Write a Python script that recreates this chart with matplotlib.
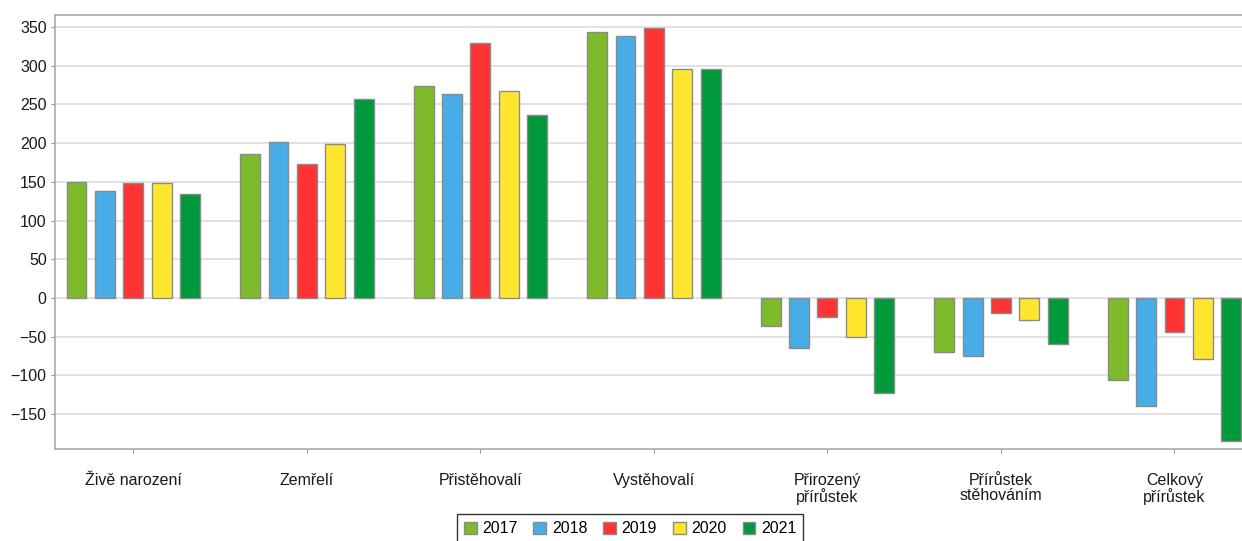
import matplotlib
matplotlib.use("Agg")
import matplotlib.pyplot as plt
import numpy as np

categories = ["Živě narození", "Zemřelí", "Přistěhovalí", "Vystěhovalí",
              "Přirozený\npřírůstek", "Přírůstek\nstěhováním", "Celkový\npřírůstek"]
years = ["2017", "2018", "2019", "2020", "2021"]
v2017 = [150, 186, 274, 344, -36, -70, -106]
v2018 = [138, 202, 263, 338, -64, -75, -139]
v2019 = [149, 173, 329, 349, -24, -20, -44]
v2020 = [149, 199, 267, 296, -50, -29, -79]
v2021 = [134, 257, 236, 296, -123, -60, -185]
series = [v2017, v2018, v2019, v2020, v2021]
colors = ["#7FBA2B", "#48ADE6", "#FF3333", "#FFE62E", "#00993B"]

plt.rcParams['font.family'] = ['Liberation Sans', 'DejaVu Sans']
fig = plt.figure(figsize=(12.42, 5.41), dpi=100)
ax = fig.add_axes([55/1242, 1-449/541, 1-55/1242, (449-15)/541])

x = np.arange(len(categories))
step = 0.164
width = 0.115
for i, (vals, c, yr) in enumerate(zip(series, colors, years)):
    ax.bar(x + (i-2)*step, vals, width, color=c, edgecolor="#8A8A8A",
           linewidth=1.0, label=yr, zorder=3)

fs = 11.5
ax.set_ylim(-195, 365.5)
ax.set_xlim(-0.452, (1242-133.5)/173.5)
ax.set_yticks(np.arange(-150, 351, 50))
ax.grid(axis='y', color='#DDDDDD', linewidth=1.2, zorder=0)
ax.set_xticks(x)
ax.set_xticklabels(categories, fontsize=fs, color='#1A1A1A', linespacing=1.05)
ax.tick_params(axis='x', length=3, color='#999999', pad=14)
ax.tick_params(axis='y', length=3, color='#999999', labelsize=fs, labelcolor='#1A1A1A', pad=3)
for s in ['left', 'bottom', 'top']:
    ax.spines[s].set_color('#AAAAAA')
    ax.spines[s].set_linewidth(1.2)
ax.spines['right'].set_visible(False)

leg = fig.legend(loc='upper center', bbox_to_anchor=(630/1242, 1-514/541), ncol=5,
                 fontsize=fs, frameon=True, fancybox=False, edgecolor='black',
                 handlelength=0.8, handleheight=0.8, handletextpad=0.35,
                 columnspacing=1.0, borderpad=0.45, borderaxespad=0)
leg.get_frame().set_linewidth(1.0)
for h in leg.legend_handles:
    h.set_edgecolor('#8A8A8A')

fig.savefig("out.png", dpi=100)
